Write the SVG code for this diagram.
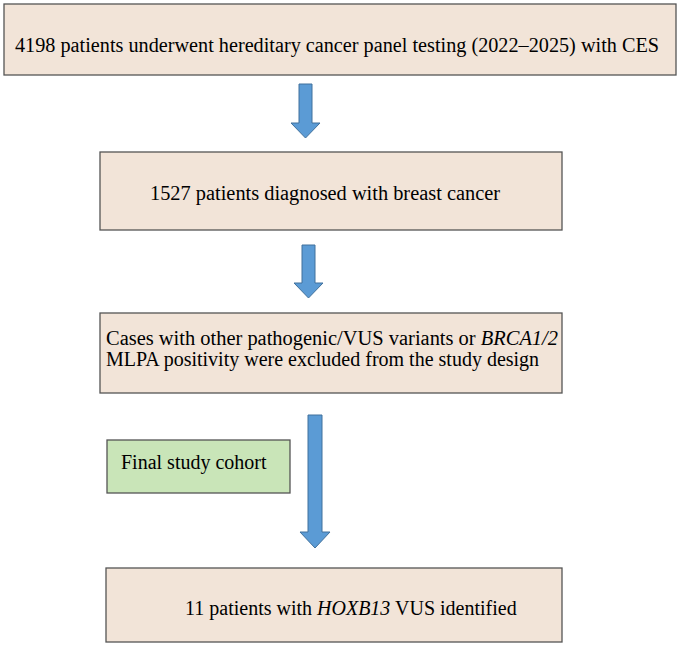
<svg xmlns="http://www.w3.org/2000/svg" width="685" height="652" viewBox="0 0 685 652">
<style>
.box{fill:#f2e4d8;stroke:#555;stroke-width:1.3}
.g{fill:#c9e5b8;stroke:#555;stroke-width:1.3}
.ar{fill:#5b9bd5;stroke:#41719c;stroke-width:1}
text{font-family:"Liberation Serif",serif;font-size:20px;fill:#000}
</style>
<rect width="685" height="652" fill="#fff"/>
<g id="connectors">
<path class="ar" d="M299,84 H312 V123 H320 L305.5,138 L291,123 H299 Z"/>
<path class="ar" d="M302,245 H315 V283 H323 L308.5,298 L294,283 H302 Z"/>
<path class="ar" d="M308,415 H322 V532 H330 L315,548 L300,532 H308 Z"/>
</g>
<g id="n1"><rect class="box" x="4" y="4" width="672" height="71"/><text x="15" y="52" textLength="644" lengthAdjust="spacingAndGlyphs">4198 patients underwent hereditary cancer panel testing (2022–2025) with CES</text></g>
<g id="n2"><rect class="box" x="100" y="152" width="462" height="78"/><text x="150" y="200" textLength="350" lengthAdjust="spacingAndGlyphs">1527 patients diagnosed with breast cancer</text></g>
<g id="n3"><rect class="box" x="100" y="313" width="462" height="80"/><text x="106" y="345" textLength="452" lengthAdjust="spacingAndGlyphs">Cases with other pathogenic/VUS variants or <tspan font-style="italic">BRCA1/2</tspan></text><text x="106" y="366">MLPA positivity were excluded from the study design</text></g>
<g id="n4"><rect class="g" x="107" y="440" width="183" height="53"/><text x="121" y="469" font-family="Liberation Sans,sans-serif" font-size="17">Final study cohort</text></g>
<g id="n5"><rect class="box" x="106" y="568" width="456" height="74"/><text x="185" y="615">11 patients with <tspan font-style="italic">HOXB13</tspan> VUS identified</text></g>
</svg>
